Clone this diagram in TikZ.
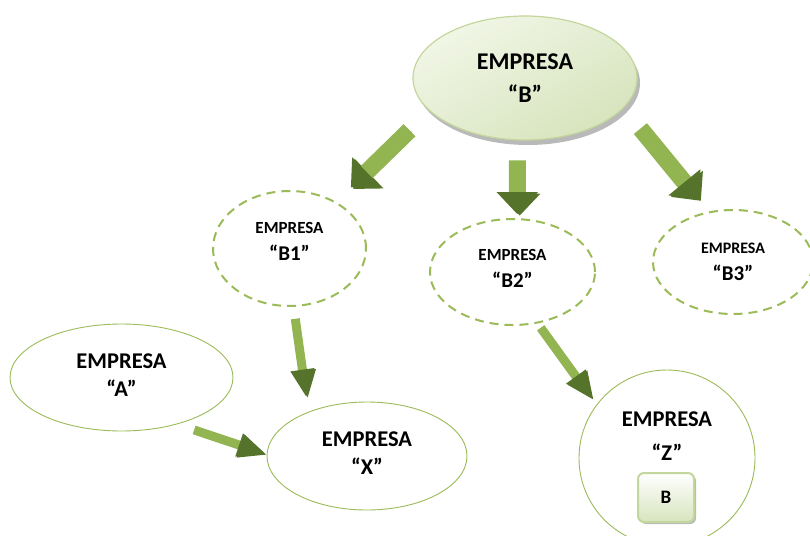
\documentclass[tikz,border=0pt]{standalone}
\usepackage{fontspec}
\setmainfont{Carlito}
\usetikzlibrary{shapes.geometric,arrows.meta,shadows}

\definecolor{leaf}{HTML}{9BBB59}
\definecolor{leafpale}{HTML}{D7E4BD}
\definecolor{leaflight}{HTML}{F1F6E6}
\definecolor{leafedge}{HTML}{C3D69B}
\definecolor{arrowlight}{HTML}{92B451}
\definecolor{arrowdark}{HTML}{55732A}

\begin{document}
\begin{tikzpicture}[x=1pt, y=-1pt,
		firm/.style={ellipse, draw=leaf, line width=0.9pt, inner sep=0pt, align=center,
			font=\bfseries\fontsize{22.5}{28}\selectfont},
		subfirm/.style={ellipse, draw=leaf, line width=2pt, dash pattern=on 9pt off 6pt,
			inner sep=0pt, align=center, font=\bfseries\fontsize{21}{27}\selectfont},
		parent/.style={ellipse, draw=leafedge, line width=1.2pt, inner sep=0pt, align=center,
			top color=leaflight, bottom color=leafpale, shading angle=30,
			drop shadow={shadow xshift=3pt, shadow yshift=-5pt, fill=gray!55, opacity=1},
			font=\bfseries\fontsize{24}{33}\selectfont},
		keybox/.style={rectangle, rounded corners=6pt, draw=leafedge, line width=2pt,
			top color=white, bottom color=leafpale,
			drop shadow={shadow xshift=2pt, shadow yshift=-2pt, fill=gray!55, opacity=1},
			font=\bfseries\fontsize{19}{20}\selectfont},
		bigarrow/.style={draw=arrowlight, line width=17pt,
			-{Triangle[width=40pt, length=22pt, color=arrowdark]},
			preaction={draw=arrowdark, transform canvas={xshift=2.5pt, yshift=-1.5pt}}},
		smallarrow/.style={draw=arrowlight, line width=9pt,
			-{Triangle[width=22pt, length=28pt, color=arrowdark]},
			preaction={draw=arrowdark, transform canvas={xshift=1.5pt, yshift=-1pt}}}]
	\useasboundingbox (0,0) rectangle (810,535);

	% companies
	\node[parent, minimum width=224pt, minimum height=124pt] (B) at (525,78) {EMPRESA\\“B”};
	\node[subfirm, minimum width=153pt, minimum height=115pt, text depth=14pt] (B1) at (289.5,248.5)
		{{\fontsize{17}{20}\selectfont EMPRESA}\\“B1”};
	\node[subfirm, minimum width=165pt, minimum height=106pt, text depth=8pt] (B2) at (512.5,272)
		{{\fontsize{17}{20}\selectfont EMPRESA}\\“B2”};
	\node[subfirm, minimum width=160pt, minimum height=104pt] (B3) at (733,262)
		{{\fontsize{16}{20}\selectfont EMPRESA}\\“B3”};
	\node[firm, minimum width=223pt, minimum height=107pt, text depth=5pt] (A) at (121.5,377.5) {EMPRESA\\“A”};
	\node[firm, minimum width=200pt, minimum height=108pt, text depth=6pt] (X) at (367,456) {EMPRESA\\“X”};
	\node[firm, circle, minimum size=176pt] (Z) at (667,458) {};
	\node[font=\bfseries\fontsize{22.5}{34}\selectfont, align=center] (ztext) at (667,436) {EMPRESA\\“Z”};
	\node[keybox, minimum width=56pt, minimum height=49pt] (key) at (666,497.5) {B};

	% links
	\draw[bigarrow, shorten <=27.6pt, shorten >=20.5pt] (B.199) -- (B1.45);
	\draw[bigarrow, shorten <=20pt, shorten >=4pt] (B.263) -- (B2.85);
	\draw[bigarrow, shorten <=26.4pt, shorten >=15.8pt] (B.343) -- (B3.116);
	\draw[smallarrow, shorten <=12pt, shorten >=14.5pt] (B1.274) -- (X.143);
	\draw[smallarrow, shorten <=17.8pt, shorten >=1pt] (A.320) -- (X.179);
	\draw[smallarrow, shorten <=5.3pt, shorten >=6.9pt] (B2.296) -- (Z.143);
\end{tikzpicture}
\end{document}
